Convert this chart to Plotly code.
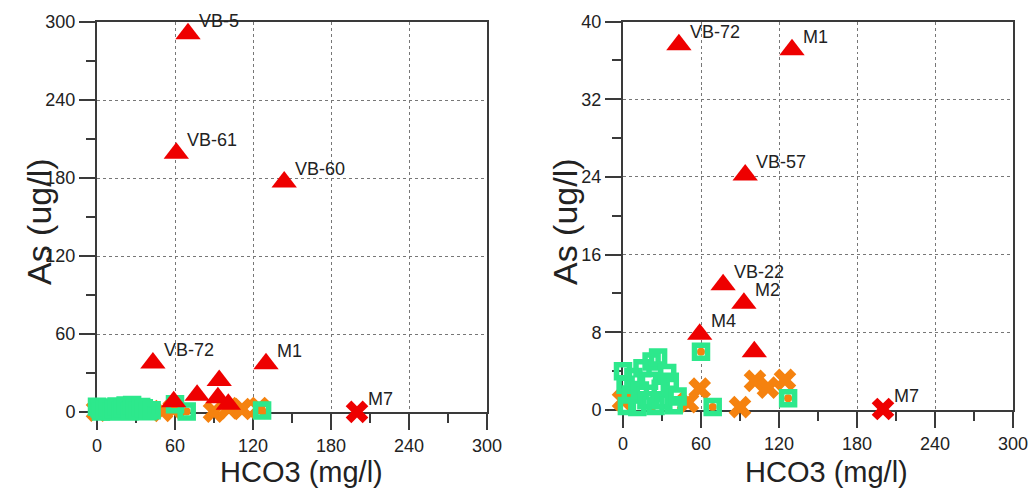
import plotly.graph_objects as go

# ---------------- data (HCO3 mg/l , As ug/l) ----------------
tri_x = [70, 61, 144, 43, 130, 94, 77, 93, 59, 101]
tri_y = [291, 199, 177, 37.6, 37.1, 24.2, 12.9, 11.0, 7.8, 6.0]
tri_labels = ["VB-5", "VB-61", "VB-60", "VB-72", "M1", "VB-57", "VB-22", "M2", "M4", ""]

redx_x = [200]
redx_y = [0.1]
redx_labels = ["M7"]

orx_x = [0, 50, 59, 90, 101.5, 111.5, 124.6]
orx_y = [1.0, 0.8, 2.2, 0.3, 3.0, 2.3, 3.1]

sq_x = [0, 2, 3, 6, 8, 11, 13, 15, 18, 20, 22, 25, 27, 29, 31, 34, 36, 39, 42, 60, 69, 127]
sq_y = [4.0, 2.6, 0.4, 1.6, 3.4, 0.3, 2.0, 4.3, 1.0, 3.0, 5.0, 0.4, 5.4, 2.2, 1.0, 3.8, 2.9, 0.5, 1.4, 6.0, 0.3, 1.2]

orc_x = [3, 22, 25, 45, 60, 69, 127]
orc_y = [0.8, 0.2, 1.3, 0.3, 6.0, 0.3, 1.2]

xticks = [0, 60, 120, 180, 240, 300]
left_yticks = [0, 60, 120, 180, 240, 300]
right_yticks = [0, 8, 16, 24, 32, 40]

left_shown = ["VB-5", "VB-61", "VB-60", "VB-72", "M1", "M7"]
right_shown = ["VB-72", "M1", "VB-57", "VB-22", "M2", "M4", "M7"]

# ---------------- styling ----------------
FONT = "Liberation Sans, Arial, sans-serif"
GREEN = "#2DE88C"
ORANGE = "#F5820F"
RED = "#EE0000"
AX = "#3a3a3a"
W, H = 1036, 494
OFF = 8  # page body margin


def px(xp):
    return (xp - OFF) / W


def py(yp):
    return (H - (yp - OFF)) / H


fig = go.Figure()


def add_panel(xa, ya):
    kw = dict(xaxis=xa, yaxis=ya, mode="markers", showlegend=False, cliponaxis=False, hoverinfo="skip")
    fig.add_trace(go.Scatter(x=orx_x, y=orx_y, marker=dict(symbol="x", size=20, color=ORANGE,
                                                          line=dict(width=0)), **kw))
    fig.add_trace(go.Scatter(x=orc_x, y=orc_y, marker=dict(symbol="circle", size=8, color=ORANGE,
                                                          line=dict(width=0)), **kw))
    fig.add_trace(go.Scatter(x=sq_x, y=sq_y, marker=dict(symbol="square-open", size=13, color=GREEN,
                                                         line=dict(width=5.5, color=GREEN)), **kw))
    fig.add_trace(go.Scatter(x=tri_x, y=tri_y, marker=dict(symbol="triangle-up", size=22, color=RED,
                                                          line=dict(width=0)), **kw))
    fig.add_trace(go.Scatter(x=redx_x, y=redx_y, marker=dict(symbol="x", size=20, color=RED,
                                                           line=dict(width=0)), **kw))


add_panel("x", "y")
add_panel("x2", "y2")

annotations = []


def add_labels(xref, yref, shown):
    for lx, ly, lt in list(zip(tri_x, tri_y, tri_labels)) + list(zip(redx_x, redx_y, redx_labels)):
        if lt in shown:
            annotations.append(dict(x=lx, y=ly, xref=xref, yref=yref, text=lt, showarrow=False,
                                    xanchor="left", yanchor="middle", xshift=9, yshift=13,
                                    font=dict(family=FONT, size=18, color="#222")))


add_labels("x", "y", left_shown)
add_labels("x2", "y2", right_shown)

# axis titles
for xc in [301, 826]:
    annotations.append(dict(x=px(xc), y=py(472), xref="paper", yref="paper", text="HCO3 (mg/l)",
                            showarrow=False, xanchor="center", yanchor="middle",
                            font=dict(family=FONT, size=29, color="#222")))
for xc in [39, 565]:
    annotations.append(dict(x=px(xc), y=py(222), xref="paper", yref="paper", text="As (ug/l)",
                            showarrow=False, textangle=-90, xanchor="center", yanchor="middle",
                            font=dict(family=FONT, size=34, color="#222")))


def axis(domain, rng, ticks, minor_dtick, anchor):
    return dict(domain=domain, range=rng, tickmode="array", tickvals=ticks, ticktext=[str(t) for t in ticks],
                showline=True, linecolor=AX, linewidth=2, mirror=True, automargin=False,
                ticks="outside", ticklen=16, tickwidth=1.5, tickcolor=AX,
                minor=dict(dtick=minor_dtick, ticks="outside", ticklen=9, tickwidth=1.5, tickcolor=AX, showgrid=False),
                showgrid=True, gridcolor="#777", gridwidth=1, griddash="dot",
                zeroline=False, anchor=anchor, layer="below traces",
                tickfont=dict(family=FONT, size=18, color="#222"))


fig.update_layout(
    width=W, height=H,
    margin=dict(l=0, r=0, t=0, b=0, pad=0),
    paper_bgcolor="white", plot_bgcolor="white",
    xaxis=axis([px(97), px(487)], [0, 300], xticks, 30, "y"),
    yaxis=axis([py(412), py(22)], [0, 300], left_yticks, 30, "x"),
    xaxis2=axis([px(623), px(1013)], [0, 300], xticks, 30, "y2"),
    yaxis2=axis([py(410), py(21.5)], [0, 40], right_yticks, 4, "x2"),
    annotations=annotations,
)

fig.write_html("out.html")
